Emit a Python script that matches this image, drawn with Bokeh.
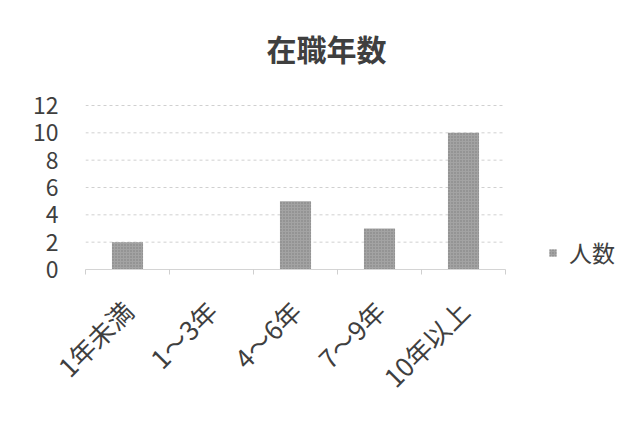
import math
from bokeh.plotting import figure
from bokeh.models import (ColumnDataSource, Range1d, Legend, LegendItem,
                          FixedTicker, Label)
from bokeh.embed import file_html
from bokeh.resources import INLINE

categories = ["1年未満", "1～3年", "4～6年", "7～9年", "10年以上"]
counts = [2, 0, 5, 3, 10]
y_ticks = [0, 2, 4, 6, 8, 10, 12]
series_name = "人数"
title_text = "在職年数"

FONT = "Noto Sans CJK JP"
TXT = "#3f3f3f"

xs = list(range(len(categories)))
n = len(categories)
ymax = max(y_ticks)

src = ColumnDataSource(dict(x=xs, cat=categories, val=counts))

# frame spans to the right edge and top so legend and title can sit inside it
PX_PER_CAT = 84.0
FRAME_LEFT, FRAME_BOTTOM = 85, 269
PLOT_TOP = 105
x_end = -0.5 + (644 - FRAME_LEFT) / PX_PER_CAT
y_end = ymax * FRAME_BOTTOM / (FRAME_BOTTOM - PLOT_TOP)

p = figure(x_range=Range1d(-0.5, x_end), y_range=Range1d(0, y_end), width=644, height=428,
           output_backend="svg", toolbar_location=None,
           min_border_left=FRAME_LEFT, min_border_right=0, min_border_top=0,
           min_border_bottom=428 - FRAME_BOTTOM)
p.outline_line_color = None
p.background_fill_color = "white"
p.xgrid.grid_line_color = None
p.ygrid.grid_line_color = None

# horizontal gridlines over the category span only
grid_src = ColumnDataSource(dict(y=y_ticks, x0=[-0.5] * len(y_ticks), x1=[n - 0.5] * len(y_ticks)))
p.segment(x0="x0", x1="x1", y0="y", y1="y", source=grid_src,
          line_color="#d0d0d0", line_dash="3 3", line_width=1)

r = p.vbar(x="x", top="val", width=0.37, source=src, fill_color="#a3a3a3",
           line_color=None, hatch_pattern="dot", hatch_color="#7c7c7c", hatch_scale=3, hatch_weight=1)

p.yaxis.ticker = FixedTicker(ticks=y_ticks)
p.yaxis.axis_line_color = None
p.yaxis.major_tick_line_color = None
p.yaxis.minor_tick_line_color = None
p.yaxis.major_label_text_font = FONT
p.yaxis.major_label_text_font_size = "23px"
p.yaxis.major_label_text_color = TXT
p.yaxis.major_label_standoff = 21

p.xaxis.ticker = FixedTicker(ticks=xs, minor_ticks=[i - 0.5 for i in range(n + 1)])
p.xaxis.major_label_overrides = {i: c for i, c in zip(xs, categories)}
p.xaxis.bounds = (-0.5, n - 0.5)
p.xaxis.axis_line_color = "#d4d4d4"
p.xaxis.major_tick_line_color = None
p.xaxis.minor_tick_line_color = "#cfcfcf"
p.xaxis.minor_tick_out = 5
p.xaxis.minor_tick_in = 0
p.xaxis.major_label_orientation = math.pi / 4
p.xaxis.major_label_text_font = FONT
p.xaxis.major_label_text_font_size = "26px"
p.xaxis.major_label_text_color = TXT
p.xaxis.major_label_standoff = 30

title = Label(x=-0.5 + (326 - FRAME_LEFT) / PX_PER_CAT, y=y_end * (FRAME_BOTTOM - 47) / FRAME_BOTTOM,
              text=title_text, text_font=FONT, text_font_size="30px", text_font_style="bold",
              text_color=TXT, text_align="center", text_baseline="middle")
p.add_layout(title)

legend = Legend(items=[LegendItem(label=series_name, renderers=[r])],
                location=(463, 0), border_line_color=None, background_fill_alpha=0,
                glyph_width=9, glyph_height=9, label_text_font=FONT,
                label_text_font_size="23px", label_text_color=TXT,
                padding=0, margin=0, label_standoff=12)
p.add_layout(legend, "center")

open("out.html", "w").write(file_html(p, INLINE))
